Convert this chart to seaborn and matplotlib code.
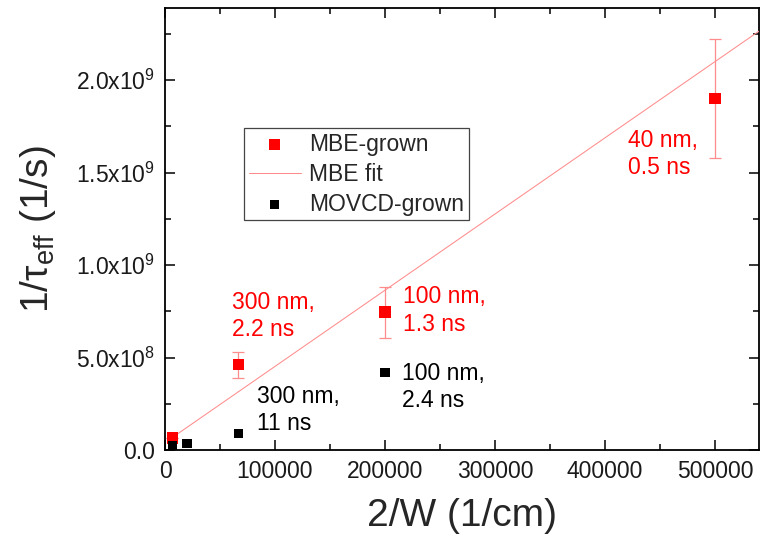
import numpy as np
import matplotlib
matplotlib.use('Agg')
import matplotlib.pyplot as plt
import seaborn as sns
from matplotlib.ticker import MultipleLocator, FuncFormatter

# 2/W (1/cm) and 1/tau_eff (1/s)
mbe_x = [6667, 66667, 200000, 500000]
mbe_y = [6.5e7, 4.6e8, 7.46e8, 1.90e9]
mbe_err = [0.0, 7.0e7, 1.38e8, 3.2e8]
mbe_notes = ['', '300 nm,\n2.2 ns', '100 nm,\n1.3 ns', '40 nm,\n0.5 ns']

movcd_x = [6667, 20000, 66667, 200000]
movcd_y = [2.3e7, 3.5e7, 9.0e7, 4.18e8]
movcd_notes = ['', '', '300 nm,\n11 ns', '100 nm,\n2.4 ns']

# linear fit of the MBE points
fit_slope = 4120.0
fit_intercept = 4.0e7
fit_range = [6667, 540000]

# annotation anchors (left edge, vertical centre)
note_pos = {
    '300 nm,\n2.2 ns': (61000, 7.25e8),
    '100 nm,\n1.3 ns': (216000, 7.55e8),
    '40 nm,\n0.5 ns': (421000, 1.60e9),
    '300 nm,\n11 ns': (84000, 2.15e8),
    '100 nm,\n2.4 ns': (215500, 3.40e8),
}

sns.set_theme(style='ticks')
plt.rcParams['font.family'] = ['Liberation Sans', 'DejaVu Sans']
plt.rcParams['mathtext.fontset'] = 'custom'
plt.rcParams['mathtext.rm'] = 'Liberation Sans'
plt.rcParams['mathtext.it'] = 'Liberation Sans:italic'
plt.rcParams['mathtext.bf'] = 'Liberation Sans:bold'

RED = '#ff0000'
PALE = '#ff8c8c'

fig = plt.figure(figsize=(7.6, 5.38), dpi=100)
ax = fig.add_axes([165 / 760, 1 - 450 / 538, 594 / 760, 442 / 538])

ax.errorbar(mbe_x, mbe_y, yerr=mbe_err, fmt='none', ecolor=PALE,
            elinewidth=0.9, capsize=4, capthick=0.9, zorder=2)

xf = np.array(fit_range, dtype=float)
sns.scatterplot(x=mbe_x, y=mbe_y, marker='s', s=64, color=RED,
                edgecolor='none', label='MBE-grown', ax=ax, zorder=4)
sns.lineplot(x=xf, y=fit_slope * xf + fit_intercept, color=PALE,
             linewidth=0.75, label='MBE fit', ax=ax, zorder=3)
sns.scatterplot(x=movcd_x, y=movcd_y, marker='s', s=42, color='black',
                edgecolor='none', label='MOVCD-grown', ax=ax, zorder=4)

for note in mbe_notes:
    if note:
        ax.text(*note_pos[note], note, color=RED, fontsize=16.5,
                ha='left', va='center', linespacing=1.25)
for note in movcd_notes:
    if note:
        ax.text(*note_pos[note], note, color='black', fontsize=16.5,
                ha='left', va='center', linespacing=1.25)

ax.set_xlim(0, 540000)
ax.set_ylim(0, 2.39e9)
ax.xaxis.set_major_locator(MultipleLocator(100000))
ax.xaxis.set_minor_locator(MultipleLocator(50000))
ax.yaxis.set_major_locator(MultipleLocator(5e8))
ax.yaxis.set_minor_locator(MultipleLocator(2.5e8))


def sci_label(v, pos):
    if v == 0:
        return '0.0'
    e = int(np.floor(np.log10(abs(v))))
    return '%.1fx10$^{%d}$' % (v / 10 ** e, e)


ax.yaxis.set_major_formatter(FuncFormatter(sci_label))
ax.xaxis.set_major_formatter(FuncFormatter(lambda v, p: '%d' % v))

ax.tick_params(which='both', direction='in', top=True, right=True,
               labelsize=16.5, width=1.1, color='black', labelcolor='#1a1a1a')
ax.tick_params(which='major', length=7, pad=7)
ax.tick_params(which='minor', length=4)
for sp in ax.spines.values():
    sp.set_linewidth(1.3)
    sp.set_color('black')

ax.set_xlabel('2/W (1/cm)', fontsize=28, labelpad=11)
ax.set_ylabel('1/\u03c4$_{\\mathregular{eff}}$ (1/s)', fontsize=28,
              labelpad=13, family=['DejaVu Serif', 'Liberation Sans'])
ax.yaxis.label.set_family(['Liberation Sans'])

leg = ax.legend(loc='upper left', bbox_to_anchor=(0.133, 0.728),
                borderaxespad=0, fontsize=16.5, frameon=True, fancybox=False,
                handlelength=2.3, handletextpad=0.35, labelspacing=0.3,
                borderpad=0.2, markerscale=1.0)
leg.get_frame().set_edgecolor('#444444')
leg.get_frame().set_linewidth(0.9)
leg.get_frame().set_alpha(1)

fig.savefig('out.png', dpi=100)
